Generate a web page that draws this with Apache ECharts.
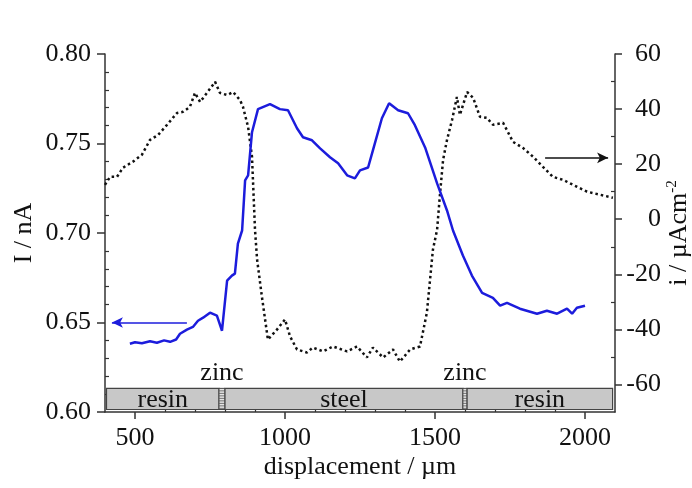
<!DOCTYPE html>
<html>
<head>
<meta charset="utf-8">
<script src="https://cdn.jsdelivr.net/npm/echarts@6/dist/echarts.min.js"></script>
<style>
html, body { margin: 0; padding: 0; background: #fff; }
#chart { width: 692px; height: 488px; }
</style>
</head>
<body>
<div id="chart"></div>
<script>
// current I / nA (blue, left axis)
const blueX = [483, 500, 523, 550, 573, 597, 617, 637, 650, 673, 693, 710, 727, 750, 773, 790, 807, 823, 833, 843, 857, 867, 877, 890, 910, 950, 983, 1010, 1040, 1060, 1090, 1117, 1150, 1177, 1207, 1233, 1250, 1277, 1293, 1323, 1347, 1377, 1410, 1433, 1467, 1507, 1540, 1560, 1593, 1623, 1657, 1693, 1717, 1740, 1783, 1840, 1873, 1907, 1940, 1957, 1973, 2000]
const blueI = [0.6381, 0.6390, 0.6384, 0.6395, 0.6387, 0.6400, 0.6392, 0.6405, 0.6437, 0.6460, 0.6475, 0.6510, 0.6527, 0.6555, 0.6538, 0.6454, 0.6734, 0.6762, 0.6773, 0.6941, 0.7014, 0.7294, 0.7322, 0.7563, 0.7692, 0.7720, 0.7692, 0.7686, 0.7585, 0.7535, 0.7518, 0.7473, 0.7423, 0.7389, 0.7322, 0.7305, 0.7350, 0.7366, 0.7462, 0.7641, 0.7725, 0.7686, 0.7669, 0.7602, 0.7478, 0.7277, 0.7126, 0.7014, 0.6874, 0.6762, 0.6666, 0.6638, 0.6594, 0.6610, 0.6577, 0.6549, 0.6566, 0.6549, 0.6577, 0.6549, 0.6582, 0.6594]

// current density i / uAcm-2 (black dotted, right axis)
const dotX = [400, 417, 440, 460, 493, 523, 550, 577, 607, 640, 660, 683, 700, 717, 740, 767, 783, 807, 827, 850, 860, 877, 890, 900, 907, 923, 943, 973, 1000, 1017, 1040, 1073, 1093, 1127, 1160, 1207, 1240, 1273, 1293, 1327, 1360, 1383, 1417, 1450, 1473, 1493, 1507, 1517, 1527, 1540, 1557, 1573, 1583, 1607, 1627, 1650, 1673, 1693, 1727, 1760, 1793, 1827, 1860, 1893, 1927, 1960, 2007, 2050, 2093]
const dotI = [12.5, 15.4, 15.4, 18.7, 20.9, 23.4, 28.8, 30.6, 34.3, 38.6, 39.0, 40.8, 45.9, 42.6, 45.9, 49.9, 45.9, 45.1, 46.2, 43.3, 40.8, 33.5, 22.7, -3.8, -14.7, -28.1, -43.7, -40.1, -36.4, -42.6, -47.3, -48.4, -46.6, -48.0, -46.2, -48.0, -46.2, -50.2, -46.6, -50.2, -47.3, -51.7, -47.3, -46.2, -33.9, -11.1, -3.8, 9.6, 21.6, 28.8, 36.1, 44.4, 37.9, 46.2, 44.1, 37.2, 36.8, 34.3, 35.0, 28.1, 25.9, 22.7, 19.0, 15.4, 14.3, 12.5, 10.0, 8.9, 7.8]

const xTicks = [500, 1000, 1500, 2000]
const xMinor = [600, 700, 800, 900, 1100, 1200, 1300, 1400, 1600, 1700, 1800, 1900]
const leftMinor = [0.61, 0.62, 0.63, 0.64, 0.66, 0.67, 0.68, 0.69, 0.71, 0.72, 0.73, 0.74, 0.76, 0.77, 0.78, 0.79]
const rightTicks = [-60, -40, -20, 0, 20, 40, 60]
const rightMinor = [-50, -30, -10, 10, 30, 50]

// sample layers along the scan
const segNames = ['resin', 'zinc', 'steel', 'zinc', 'resin']
const segStart = [405, 780, 800, 1593, 1607]
const segEnd = [780, 800, 1593, 1607, 2092]

// arrows pointing to each curve's axis
const blueArrow = [[673, 0.65], [423, 0.65]]
const blackArrow = [[1867, 22.3], [2077, 22.3]]

const FONT = '"Liberation Serif", "Times New Roman", serif'
const AXIS_COLOR = '#333'

const chart = echarts.init(document.getElementById('chart'))

const segData = segNames.map((n, i) => [segStart[i], segEnd[i]])

const option = {
  animation: false,
  backgroundColor: '#fff',
  grid: { left: 105, right: 77, top: 54, bottom: 76, outerBoundsMode: 'none', containLabel: false },
  xAxis: [
    {
      type: 'value',
      min: 400,
      max: 2100,
      position: 'bottom',
      name: 'displacement / µm',
      nameLocation: 'middle',
      nameGap: 42,
      nameMoveOverlap: false,
      nameTextStyle: { fontFamily: FONT, fontSize: 26, color: '#111' },
      axisLine: { onZero: false, lineStyle: { color: AXIS_COLOR, width: 1.5 } },
      axisTick: { customValues: xTicks, length: 7, lineStyle: { color: AXIS_COLOR, width: 1.5 } },
      axisLabel: { customValues: xTicks, fontFamily: FONT, fontSize: 26, color: '#111', margin: 13, formatter: v => String(v) },
      splitLine: { show: false }
    },
    {
      type: 'value',
      min: 400,
      max: 2100,
      position: 'bottom',
      axisLine: { show: false, onZero: false },
      axisTick: { customValues: xMinor, inside: true, length: 4, lineStyle: { color: AXIS_COLOR, width: 1.2 } },
      axisLabel: { show: false },
      splitLine: { show: false }
    }
  ],
  yAxis: [
    {
      type: 'value',
      min: 0.6,
      max: 0.8,
      interval: 0.05,
      position: 'left',
      name: 'I / nA',
      nameLocation: 'middle',
      nameRotate: 90,
      nameGap: 68,
      nameMoveOverlap: false,
      nameTextStyle: { fontFamily: FONT, fontSize: 26, color: '#111' },
      axisLine: { show: true, onZero: false, lineStyle: { color: AXIS_COLOR, width: 1.5 } },
      axisTick: { show: true, length: 8, lineStyle: { color: AXIS_COLOR, width: 1.5 } },
      axisLabel: { fontFamily: FONT, fontSize: 26, color: '#111', margin: 14, formatter: v => v.toFixed(2) },
      splitLine: { show: false }
    },
    {
      type: 'value',
      min: -70,
      max: 60,
      position: 'right',
      name: 'i / µAcm{sup|-2}',
      nameLocation: 'middle',
      nameRotate: 90,
      nameGap: 50,
      nameMoveOverlap: false,
      nameTextStyle: {
        fontFamily: FONT, fontSize: 26, color: '#111',
        rich: { sup: { fontFamily: FONT, fontSize: 15, color: '#111', verticalAlign: 'top', padding: [0, 0, 14, 0] } }
      },
      axisLine: { show: true, onZero: false, lineStyle: { color: AXIS_COLOR, width: 1.5 } },
      axisTick: { show: true, customValues: rightTicks, length: 7, lineStyle: { color: AXIS_COLOR, width: 1.5 } },
      axisLabel: { customValues: rightTicks, fontFamily: FONT, fontSize: 26, color: '#111', align: 'right', margin: 46 },
      splitLine: { show: false }
    },
    {
      type: 'value',
      min: 0.6,
      max: 0.8,
      position: 'left',
      axisLine: { show: false, onZero: false },
      axisTick: { show: true, customValues: leftMinor, inside: true, length: 4, lineStyle: { color: AXIS_COLOR, width: 1.2 } },
      axisLabel: { show: false },
      splitLine: { show: false }
    },
    {
      type: 'value',
      min: -70,
      max: 60,
      position: 'right',
      axisLine: { show: false, onZero: false },
      axisTick: { show: true, customValues: rightMinor, inside: true, length: 4, lineStyle: { color: AXIS_COLOR, width: 1.2 } },
      axisLabel: { show: false },
      splitLine: { show: false }
    }
  ],
  series: [
    {
      name: 'I',
      type: 'line',
      xAxisIndex: 0,
      yAxisIndex: 0,
      data: blueX.map((x, i) => [x, blueI[i]]),
      symbol: 'none',
      lineStyle: { color: '#1c1cdc', width: 2.5 },
      z: 3,
      markLine: {
        silent: true,
        symbol: ['none', 'arrow'],
        symbolSize: [8, 11],
        label: { show: false },
        lineStyle: { color: '#1c1cdc', width: 1.5, type: 'solid' },
        data: [[{ coord: blueArrow[0] }, { coord: blueArrow[1] }]]
      }
    },
    {
      name: 'i',
      type: 'line',
      xAxisIndex: 0,
      yAxisIndex: 1,
      data: dotX.map((x, i) => [x, dotI[i]]),
      symbol: 'none',
      lineStyle: { color: '#111', width: 2.5, type: [2.5, 3] },
      z: 2,
      markLine: {
        silent: true,
        symbol: ['none', 'arrow'],
        symbolSize: [8, 11],
        label: { show: false },
        lineStyle: { color: '#111', width: 1.5, type: 'solid' },
        data: [[{ coord: blackArrow[0] }, { coord: blackArrow[1] }]]
      }
    },
    {
      name: 'layers',
      type: 'custom',
      xAxisIndex: 0,
      yAxisIndex: 0,
      clip: false,
      silent: true,
      z: 4,
      data: segData,
      renderItem: (params, api) => {
        const name = segNames[params.dataIndex]
        const p0 = api.coord([api.value(0), 0.6132])
        const p1 = api.coord([api.value(1), 0.6014])
        const w = p1[0] - p0[0]
        const h = p1[1] - p0[1]
        const children = []
        if (name === 'zinc') {
          children.push({
            type: 'rect',
            shape: { x: p0[0], y: p0[1], width: w, height: h },
            style: { fill: '#e6e6e6', stroke: '#444', lineWidth: 1 }
          })
          for (let y = p0[1] + 2.5; y < p1[1]; y += 2.5) {
            children.push({
              type: 'line',
              shape: { x1: p0[0], y1: y, x2: p1[0], y2: y },
              style: { stroke: '#555', lineWidth: 0.8 }
            })
          }
          children.push({
            type: 'text',
            style: {
              text: 'zinc', x: p0[0] + w / 2, y: p0[1] - 2,
              textAlign: 'center', textVerticalAlign: 'bottom',
              font: '26px ' + FONT, fill: '#111'
            }
          })
        } else {
          children.push({
            type: 'rect',
            shape: { x: p0[0], y: p0[1], width: w, height: h },
            style: { fill: '#c8c8c8', stroke: '#444', lineWidth: 1.2 }
          })
          children.push({
            type: 'text',
            style: {
              text: name, x: p0[0] + w / 2, y: p0[1] + h / 2 + 1,
              textAlign: 'center', textVerticalAlign: 'middle',
              font: '26px ' + FONT, fill: '#111'
            }
          })
        }
        return { type: 'group', children: children }
      }
    }
  ]
}

chart.setOption(option)
</script>
</body>
</html>
